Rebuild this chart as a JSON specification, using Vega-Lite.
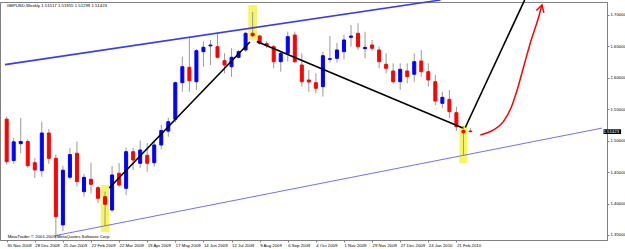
{
  "$schema": "https://vega.github.io/schema/vega-lite/v6.json",
  "width": 607,
  "height": 238,
  "autosize": {"type": "none"},
  "padding": {"left": 0, "top": 2, "right": 18, "bottom": 9},
  "background": "white",
  "config": {
    "font": "Liberation Sans",
    "view": {"stroke": "#808080", "strokeWidth": 1},
    "axisY": {
      "orient": "right", "title": null, "grid": false,
      "values": [1.7063, 1.68354, 1.66078, 1.63802, 1.61526, 1.5925, 1.56974, 1.54698, 1.52422, 1.50146, 1.4787, 1.45594, 1.43318, 1.41042, 1.38766, 1.3649, 1.34214],
      "format": ".5f",
      "labelFontSize": 4.3,
      "labelColor": "#000000",
      "labelPadding": 1,
      "labelOverlap": false,
      "labelFlush": false,
      "labelBound": false,
      "tickSize": 2,
      "tickColor": "#808080",
      "domainColor": "#808080"
    }
  },
  "datasets": {
    "candles": [
      {"date": "2008-11-30T00:00:00", "o": 1.5340, "h": 1.5380, "l": 1.4620, "c": 1.4664},
      {"date": "2008-12-07T00:00:00", "o": 1.4683, "h": 1.5040, "l": 1.4630, "c": 1.4980},
      {"date": "2008-12-14T00:00:00", "o": 1.4950, "h": 1.5360, "l": 1.4800, "c": 1.4985},
      {"date": "2008-12-21T00:00:00", "o": 1.4985, "h": 1.5020, "l": 1.4570, "c": 1.4601},
      {"date": "2008-12-28T00:00:00", "o": 1.4648, "h": 1.4720, "l": 1.4405, "c": 1.4533},
      {"date": "2009-01-04T00:00:00", "o": 1.4522, "h": 1.5300, "l": 1.4426, "c": 1.5120},
      {"date": "2009-01-11T00:00:00", "o": 1.5120, "h": 1.5180, "l": 1.4630, "c": 1.4718},
      {"date": "2009-01-18T00:00:00", "o": 1.4718, "h": 1.4780, "l": 1.3440, "c": 1.3791},
      {"date": "2009-01-25T00:00:00", "o": 1.3660, "h": 1.4600, "l": 1.3560, "c": 1.4529},
      {"date": "2009-02-01T00:00:00", "o": 1.4417, "h": 1.4880, "l": 1.4380, "c": 1.4777},
      {"date": "2009-02-08T00:00:00", "o": 1.4798, "h": 1.4985, "l": 1.4267, "c": 1.4347},
      {"date": "2009-02-15T00:00:00", "o": 1.4188, "h": 1.4469, "l": 1.4108, "c": 1.4416},
      {"date": "2009-02-22T00:00:00", "o": 1.4385, "h": 1.4648, "l": 1.4162, "c": 1.4305},
      {"date": "2009-03-01T00:00:00", "o": 1.4251, "h": 1.4278, "l": 1.4008, "c": 1.4083},
      {"date": "2009-03-08T00:00:00", "o": 1.4108, "h": 1.4188, "l": 1.3643, "c": 1.3988},
      {"date": "2009-03-15T00:00:00", "o": 1.3897, "h": 1.4596, "l": 1.3870, "c": 1.4453},
      {"date": "2009-03-22T00:00:00", "o": 1.4480, "h": 1.4644, "l": 1.4262, "c": 1.4294},
      {"date": "2009-03-29T00:00:00", "o": 1.4242, "h": 1.4890, "l": 1.4132, "c": 1.4823},
      {"date": "2009-04-05T00:00:00", "o": 1.4823, "h": 1.4880, "l": 1.4532, "c": 1.4691},
      {"date": "2009-04-12T00:00:00", "o": 1.4639, "h": 1.5000, "l": 1.4564, "c": 1.4850},
      {"date": "2009-04-19T00:00:00", "o": 1.4766, "h": 1.4960, "l": 1.4505, "c": 1.4639},
      {"date": "2009-04-26T00:00:00", "o": 1.4648, "h": 1.4995, "l": 1.4585, "c": 1.4930},
      {"date": "2009-05-03T00:00:00", "o": 1.4930, "h": 1.5250, "l": 1.4860, "c": 1.5160},
      {"date": "2009-05-10T00:00:00", "o": 1.5150, "h": 1.5360, "l": 1.5060, "c": 1.5300},
      {"date": "2009-05-17T00:00:00", "o": 1.5338, "h": 1.5935, "l": 1.5290, "c": 1.5919},
      {"date": "2009-05-24T00:00:00", "o": 1.5919, "h": 1.6332, "l": 1.5776, "c": 1.6173},
      {"date": "2009-05-31T00:00:00", "o": 1.6164, "h": 1.6650, "l": 1.5776, "c": 1.5951},
      {"date": "2009-06-07T00:00:00", "o": 1.5935, "h": 1.6455, "l": 1.5803, "c": 1.6428},
      {"date": "2009-06-14T00:00:00", "o": 1.6412, "h": 1.6571, "l": 1.6173, "c": 1.6482},
      {"date": "2009-06-21T00:00:00", "o": 1.6504, "h": 1.6598, "l": 1.6200, "c": 1.6518},
      {"date": "2009-06-28T00:00:00", "o": 1.6491, "h": 1.6704, "l": 1.6307, "c": 1.6323},
      {"date": "2009-07-05T00:00:00", "o": 1.6269, "h": 1.6386, "l": 1.6069, "c": 1.6200},
      {"date": "2009-07-12T00:00:00", "o": 1.6173, "h": 1.6466, "l": 1.6015, "c": 1.6323},
      {"date": "2009-07-19T00:00:00", "o": 1.6323, "h": 1.6439, "l": 1.6307, "c": 1.6412},
      {"date": "2009-07-26T00:00:00", "o": 1.6439, "h": 1.6729, "l": 1.6412, "c": 1.6704},
      {"date": "2009-08-02T00:00:00", "o": 1.6704, "h": 1.7040, "l": 1.6640, "c": 1.6666},
      {"date": "2009-08-09T00:00:00", "o": 1.6661, "h": 1.6680, "l": 1.6520, "c": 1.6545},
      {"date": "2009-08-16T00:00:00", "o": 1.6540, "h": 1.6580, "l": 1.6470, "c": 1.6510},
      {"date": "2009-08-23T00:00:00", "o": 1.6491, "h": 1.6518, "l": 1.6148, "c": 1.6253},
      {"date": "2009-08-30T00:00:00", "o": 1.6253, "h": 1.6412, "l": 1.6094, "c": 1.6386},
      {"date": "2009-09-06T00:00:00", "o": 1.6386, "h": 1.6729, "l": 1.6253, "c": 1.6650},
      {"date": "2009-09-13T00:00:00", "o": 1.6677, "h": 1.6729, "l": 1.6227, "c": 1.6253},
      {"date": "2009-09-20T00:00:00", "o": 1.6200, "h": 1.6386, "l": 1.5856, "c": 1.5935},
      {"date": "2009-09-27T00:00:00", "o": 1.5962, "h": 1.6121, "l": 1.5776, "c": 1.5930},
      {"date": "2009-10-04T00:00:00", "o": 1.5919, "h": 1.6069, "l": 1.5751, "c": 1.5830},
      {"date": "2009-10-11T00:00:00", "o": 1.5856, "h": 1.6412, "l": 1.5697, "c": 1.6348},
      {"date": "2009-10-18T00:00:00", "o": 1.6291, "h": 1.6660, "l": 1.6240, "c": 1.6300},
      {"date": "2009-10-25T00:00:00", "o": 1.6307, "h": 1.6550, "l": 1.6240, "c": 1.6439},
      {"date": "2009-11-01T00:00:00", "o": 1.6412, "h": 1.6680, "l": 1.6290, "c": 1.6598},
      {"date": "2009-11-08T00:00:00", "o": 1.6640, "h": 1.6836, "l": 1.6491, "c": 1.6660},
      {"date": "2009-11-15T00:00:00", "o": 1.6704, "h": 1.6863, "l": 1.6439, "c": 1.6491},
      {"date": "2009-11-22T00:00:00", "o": 1.6460, "h": 1.6729, "l": 1.6307, "c": 1.6480},
      {"date": "2009-11-29T00:00:00", "o": 1.6518, "h": 1.6598, "l": 1.6430, "c": 1.6466},
      {"date": "2009-12-06T00:00:00", "o": 1.6439, "h": 1.6491, "l": 1.6148, "c": 1.6253},
      {"date": "2009-12-13T00:00:00", "o": 1.6212, "h": 1.6386, "l": 1.6069, "c": 1.6148},
      {"date": "2009-12-20T00:00:00", "o": 1.6105, "h": 1.6227, "l": 1.5910, "c": 1.5935},
      {"date": "2009-12-27T00:00:00", "o": 1.5935, "h": 1.6227, "l": 1.5803, "c": 1.6132},
      {"date": "2010-01-03T00:00:00", "o": 1.6105, "h": 1.6227, "l": 1.5910, "c": 1.6015},
      {"date": "2010-01-10T00:00:00", "o": 1.6053, "h": 1.6386, "l": 1.5935, "c": 1.6253},
      {"date": "2010-01-17T00:00:00", "o": 1.6264, "h": 1.6439, "l": 1.6015, "c": 1.6094},
      {"date": "2010-01-24T00:00:00", "o": 1.6094, "h": 1.6227, "l": 1.5856, "c": 1.5962},
      {"date": "2010-01-31T00:00:00", "o": 1.5935, "h": 1.6042, "l": 1.5565, "c": 1.5628},
      {"date": "2010-02-07T00:00:00", "o": 1.5592, "h": 1.5776, "l": 1.5513, "c": 1.5687},
      {"date": "2010-02-14T00:00:00", "o": 1.5655, "h": 1.5803, "l": 1.5358, "c": 1.5459},
      {"date": "2010-02-21T00:00:00", "o": 1.5443, "h": 1.5538, "l": 1.5152, "c": 1.5220},
      {"date": "2010-02-28T00:00:00", "o": 1.5160, "h": 1.5232, "l": 1.4771, "c": 1.5125},
      {"date": "2010-03-07T00:00:00", "o": 1.51517, "h": 1.51955, "l": 1.51299, "c": 1.51423}
    ],
    "boxes": [
      {"date": "2009-03-03T17:00:00", "date2": "2009-03-12T07:00:00", "p1": 1.4294, "p2": 1.3547},
      {"date": "2009-07-28T17:00:00", "date2": "2009-08-06T07:00:00", "p1": 1.7154, "p2": 1.6597},
      {"date": "2010-02-24T00:00:00", "date2": "2010-03-04T00:00:00", "p1": 1.5231, "p2": 1.4639}
    ],
    "lines": [
      {"seg": "black", "part": "A", "ord": 1, "date": "2009-03-12T04:00:00", "price": 1.4246},
      {"seg": "black", "part": "A", "ord": 2, "date": "2009-07-30T07:00:00", "price": 1.6566},
      {"seg": "black", "part": "B", "ord": 1, "date": "2009-08-06T03:00:00", "price": 1.6574},
      {"seg": "black", "part": "B", "ord": 2, "date": "2010-02-27T09:00:00", "price": 1.5200},
      {"seg": "black", "part": "C", "ord": 1, "date": "2010-03-01T20:00:00", "price": 1.5208},
      {"seg": "black", "part": "C", "ord": 2, "date": "2010-04-30T00:00:00", "price": 1.7233},
      {"seg": "upper", "part": "U", "ord": 1, "date": "2008-11-28T08:00:00", "price": 1.6207},
      {"seg": "upper", "part": "U", "ord": 2, "date": "2010-02-05T04:00:00", "price": 1.7233},
      {"seg": "lower", "part": "L", "ord": 1, "date": "2009-01-18T00:00:00", "price": 1.3492},
      {"seg": "lower", "part": "L", "ord": 2, "date": "2010-07-16T00:00:00", "price": 1.5198},
      {"seg": "curve", "part": "R", "ord": 1, "date": "2010-03-16T20:00:00", "price": 1.5088},
      {"seg": "curve", "part": "R", "ord": 2, "date": "2010-03-29T22:00:00", "price": 1.5168},
      {"seg": "curve", "part": "R", "ord": 3, "date": "2010-04-08T18:00:00", "price": 1.5300},
      {"seg": "curve", "part": "R", "ord": 4, "date": "2010-04-16T21:00:00", "price": 1.5538},
      {"seg": "curve", "part": "R", "ord": 5, "date": "2010-04-23T11:00:00", "price": 1.5856},
      {"seg": "curve", "part": "R", "ord": 6, "date": "2010-04-29T22:00:00", "price": 1.6227},
      {"seg": "curve", "part": "R", "ord": 7, "date": "2010-05-06T12:00:00", "price": 1.6598},
      {"seg": "curve", "part": "R", "ord": 8, "date": "2010-05-13T01:00:00", "price": 1.6915},
      {"seg": "curve", "part": "R", "ord": 9, "date": "2010-05-17T06:00:00", "price": 1.7154},
      {"seg": "arrow", "part": "H", "ord": 1, "date": "2010-05-11T14:00:00", "price": 1.7066},
      {"seg": "arrow", "part": "H", "ord": 2, "date": "2010-05-17T06:00:00", "price": 1.7154},
      {"seg": "arrow", "part": "H", "ord": 3, "date": "2010-05-19T03:00:00", "price": 1.7030}
    ],
    "notes": [
      {"date": "2008-11-30T23:00:00", "price": 1.3468, "text": "MetaTrader © 2001-2009 MetaQuotes Software Corp."},
      {"date": "2008-11-30T00:00:00", "price": 1.7143, "text": "GBPUSD,Weekly  1.51517 1.51955 1.51299 1.51423"}
    ],
    "pricebox": [
      {"date": "2010-07-17T12:00:00", "date2": "2010-08-04T00:00:00", "p1": 1.5179, "p2": 1.5104, "price": 1.51423, "text": "1.51423"}
    ]
  },
  "encoding": {
    "x": {
      "field": "date",
      "type": "temporal",
      "scale": {"domain": [{"year": 2008, "month": 11, "date": 28, "hours": 8}, {"year": 2010, "month": 7, "date": 16, "minutes": 30}]},
      "axis": {
        "title": null,
        "grid": false,
        "values": [
          {"year": 2008, "month": 11, "date": 30}, {"year": 2008, "month": 12, "date": 28}, {"year": 2009, "month": 1, "date": 25},
          {"year": 2009, "month": 2, "date": 22}, {"year": 2009, "month": 3, "date": 22}, {"year": 2009, "month": 4, "date": 19},
          {"year": 2009, "month": 5, "date": 17}, {"year": 2009, "month": 6, "date": 14}, {"year": 2009, "month": 7, "date": 12},
          {"year": 2009, "month": 8, "date": 9}, {"year": 2009, "month": 9, "date": 6}, {"year": 2009, "month": 10, "date": 4},
          {"year": 2009, "month": 11, "date": 1}, {"year": 2009, "month": 11, "date": 29}, {"year": 2009, "month": 12, "date": 27},
          {"year": 2010, "month": 1, "date": 24}, {"year": 2010, "month": 2, "date": 21}
        ],
        "format": "%-d %b %Y",
        "labelAlign": "left",
        "labelBaseline": "top",
        "labelAngle": 0,
        "labelFontSize": 4.3,
        "labelColor": "#000000",
        "labelPadding": 1,
        "labelOverlap": false,
        "labelFlush": false,
        "labelBound": false,
        "tickSize": 2,
        "tickColor": "#808080",
        "domainColor": "#808080"
      }
    }
  },
  "layer": [
    {
      "data": {"name": "boxes"},
      "mark": {"type": "rect", "fill": "#f5f550", "opacity": 0.9},
      "encoding": {
        "x2": {"field": "date2"},
        "y": {"field": "p1", "type": "quantitative", "title": null, "scale": {"domain": [1.34204, 1.72012], "zero": false, "nice": false}},
        "y2": {"field": "p2"}
      }
    },
    {
      "data": {"name": "candles"},
      "mark": {"type": "rule", "color": "#9a9a9a", "strokeWidth": 1},
      "encoding": {
        "y": {"field": "l", "type": "quantitative", "title": null, "scale": {"domain": [1.34204, 1.72012], "zero": false, "nice": false}},
        "y2": {"field": "h"}
      }
    },
    {
      "data": {"name": "candles"},
      "mark": {"type": "bar", "width": 3, "strokeWidth": 1},
      "encoding": {
        "y": {"field": "o", "type": "quantitative", "title": null, "scale": {"domain": [1.34204, 1.72012], "zero": false, "nice": false}},
        "y2": {"field": "c"},
        "fill": {"condition": {"test": "datum.c >= datum.o", "value": "#0000ff"}, "value": "#ff0000"},
        "stroke": {"condition": {"test": "datum.c >= datum.o", "value": "#0000ff"}, "value": "#ff0000"}
      }
    },
    {
      "data": {"name": "lines"},
      "transform": [{"filter": "datum.seg == 'lower'"}],
      "mark": {"type": "line", "color": "#7070ff", "strokeWidth": 1},
      "encoding": {
        "y": {"field": "price", "type": "quantitative", "title": null, "scale": {"domain": [1.34204, 1.72012], "zero": false, "nice": false}},
        "order": {"field": "ord"}
      }
    },
    {
      "data": {"name": "lines"},
      "transform": [{"filter": "datum.seg == 'upper'"}],
      "mark": {"type": "line", "color": "#3a3aff", "strokeWidth": 1.6},
      "encoding": {
        "y": {"field": "price", "type": "quantitative", "title": null, "scale": {"domain": [1.34204, 1.72012], "zero": false, "nice": false}},
        "order": {"field": "ord"}
      }
    },
    {
      "data": {"name": "lines"},
      "transform": [{"filter": "datum.seg == 'black'"}],
      "mark": {"type": "line", "color": "#000000", "strokeWidth": 1.6},
      "encoding": {
        "y": {"field": "price", "type": "quantitative", "title": null, "scale": {"domain": [1.34204, 1.72012], "zero": false, "nice": false}},
        "detail": {"field": "part"},
        "order": {"field": "ord"}
      }
    },
    {
      "data": {"name": "lines"},
      "transform": [{"filter": "datum.seg == 'curve'"}],
      "mark": {"type": "line", "color": "#ff0000", "strokeWidth": 1.5, "interpolate": "monotone"},
      "encoding": {
        "y": {"field": "price", "type": "quantitative", "title": null, "scale": {"domain": [1.34204, 1.72012], "zero": false, "nice": false}},
        "order": {"field": "ord"}
      }
    },
    {
      "data": {"name": "lines"},
      "transform": [{"filter": "datum.seg == 'arrow'"}],
      "mark": {"type": "line", "color": "#ff0000", "strokeWidth": 1.4},
      "encoding": {
        "y": {"field": "price", "type": "quantitative", "title": null, "scale": {"domain": [1.34204, 1.72012], "zero": false, "nice": false}},
        "order": {"field": "ord"}
      }
    },
    {
      "data": {"name": "notes"},
      "mark": {"type": "text", "align": "left", "baseline": "middle", "fontSize": 4.3, "color": "#000000", "font": "Liberation Sans"},
      "encoding": {
        "y": {"field": "price", "type": "quantitative", "title": null, "scale": {"domain": [1.34204, 1.72012], "zero": false, "nice": false}},
        "text": {"field": "text"}
      }
    },
    {
      "data": {"name": "pricebox"},
      "mark": {"type": "rect", "fill": "#000000"},
      "encoding": {
        "x2": {"field": "date2"},
        "y": {"field": "p1", "type": "quantitative", "title": null, "scale": {"domain": [1.34204, 1.72012], "zero": false, "nice": false}},
        "y2": {"field": "p2"}
      }
    },
    {
      "data": {"name": "pricebox"},
      "mark": {"type": "text", "align": "left", "baseline": "middle", "fontSize": 4.3, "color": "#ffffff", "font": "Liberation Sans"},
      "encoding": {
        "y": {"field": "price", "type": "quantitative", "title": null, "scale": {"domain": [1.34204, 1.72012], "zero": false, "nice": false}},
        "text": {"field": "text"}
      }
    }
  ]
}
